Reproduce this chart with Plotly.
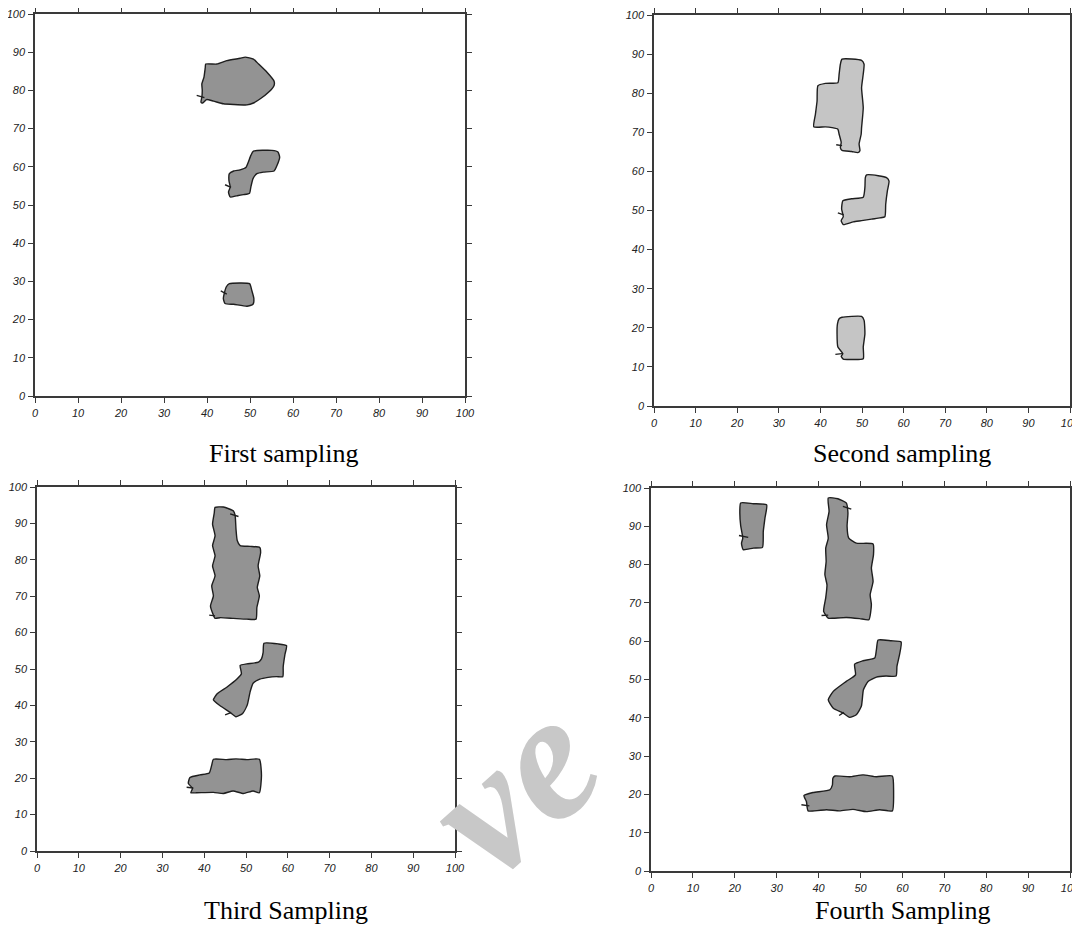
import plotly.graph_objects as go

# ---------------- data ----------------
TICKS = [0, 10, 20, 30, 40, 50, 60, 70, 80, 90, 100]
TITLES = ["First sampling", "Second sampling", "Third Sampling", "Fourth Sampling"]
WATERMARK = "ve"

# First sampling
s1_top_x = [39.7, 42.3, 44.6, 47.7, 48.9, 50.8, 52.0, 53.9, 55.6, 55.6, 54.3, 52.4, 50.8, 49.3, 46.2, 43.8, 41.5, 39.9, 39.0, 38.6, 38.8, 38.9, 38.8, 39.3, 39.6, 39.7]
s1_top_y = [86.9, 86.9, 87.8, 88.4, 88.7, 88.2, 86.9, 84.8, 82.4, 81.3, 79.5, 77.8, 76.7, 76.2, 76.3, 76.5, 77.2, 77.6, 76.7, 76.9, 78.2, 80.0, 81.7, 83.5, 86.0, 86.9]
s1_mid_x = [50.8, 55.1, 56.5, 56.9, 56.3, 55.6, 53.1, 51.6, 50.7, 50.2, 49.9, 48.5, 46.9, 45.4, 45.0, 45.4, 45.1, 45.2, 46.2, 47.7, 49.1, 49.6, 50.2, 50.8]
s1_mid_y = [64.1, 64.3, 63.9, 62.5, 60.4, 58.9, 58.6, 58.2, 56.9, 54.7, 53.1, 52.7, 52.4, 52.1, 53.4, 54.7, 56.4, 58.2, 58.9, 59.2, 59.9, 61.2, 63.0, 64.1]
s1_bot_x = [45.2, 49.9, 50.4, 50.9, 50.7, 49.3, 46.2, 44.2, 43.8, 44.0, 44.5, 45.2]
s1_bot_y = [29.4, 29.4, 27.7, 25.5, 24.0, 23.5, 24.0, 24.2, 25.5, 26.8, 28.6, 29.4]
s1_stub_x = [[37.6, 39.4], [44.2, 45.6], [43.2, 44.6]]
s1_stub_y = [[78.7, 78.1], [55.3, 54.6], [27.5, 26.7]]

# Second sampling
s2_top_x = [45.2, 49.9, 50.5, 50.3, 49.9, 50.3, 49.9, 49.8, 49.3, 49.5, 49.0, 47.5, 45.2, 44.8, 45.0, 44.5, 44.2, 42.8, 41.2, 38.4, 38.8, 39.2, 39.4, 41.2, 44.2, 44.5, 44.8, 45.2]
s2_top_y = [88.7, 88.4, 87.4, 84.9, 81.4, 76.3, 71.2, 69.5, 67.0, 65.3, 64.8, 65.1, 65.4, 66.1, 67.4, 69.5, 70.8, 71.2, 71.4, 71.4, 74.6, 78.0, 81.9, 82.5, 82.7, 84.9, 87.4, 88.7]
s2_mid_x = [51.1, 53.9, 55.9, 56.5, 56.1, 55.7, 55.5, 54.3, 52.3, 49.9, 47.9, 45.5, 45.0, 45.5, 45.1, 45.4, 47.5, 50.3, 50.7, 50.8, 51.1]
s2_mid_y = [59.1, 58.9, 58.4, 57.5, 55.0, 51.6, 48.4, 48.1, 47.8, 47.4, 47.1, 46.4, 47.4, 48.4, 50.4, 52.5, 53.0, 53.4, 55.9, 58.4, 59.1]
s2_bot_x = [45.2, 49.9, 50.5, 50.7, 50.3, 50.3, 47.5, 45.5, 45.0, 45.4, 44.2, 44.0, 44.1, 44.5, 45.2]
s2_bot_y = [22.7, 22.9, 21.9, 18.5, 15.1, 12.1, 11.9, 12.0, 12.7, 13.4, 15.1, 18.5, 21.0, 22.3, 22.7]
s2_stub_x = [[43.8, 45.2], [44.2, 45.6], [43.6, 45.2]]
s2_stub_y = [[66.8, 66.6], [49.4, 48.9], [13.2, 13.4]]

# Third sampling
s3_top_x = [42.6, 44.6, 47.0, 47.4, 47.6, 47.9, 48.6, 51.0, 53.3, 53.5, 52.9, 53.3, 52.7, 53.2, 52.6, 52.4, 50.2, 47.0, 43.8, 42.6, 42.2, 41.5, 42.2, 41.8, 42.6, 42.0, 42.6, 42.0, 42.6, 42.0, 42.4, 42.6]
s3_top_y = [94.4, 94.5, 93.4, 92.2, 88.5, 85.3, 83.9, 83.7, 83.4, 82.0, 78.3, 75.6, 72.4, 70.1, 66.9, 63.7, 63.7, 63.9, 64.1, 63.9, 64.8, 67.3, 70.1, 72.8, 75.6, 78.3, 81.1, 83.9, 86.6, 89.8, 92.8, 94.4]
s3_mid_x = [54.3, 57.7, 59.7, 59.3, 58.9, 58.8, 57.3, 55.3, 53.3, 51.7, 51.0, 50.3, 49.2, 47.6, 46.2, 43.8, 42.2, 43.1, 45.4, 47.9, 48.9, 48.6, 50.2, 53.0, 53.7, 54.1, 54.3]
s3_mid_y = [57.1, 56.9, 56.4, 53.9, 50.6, 47.9, 47.9, 47.7, 47.2, 46.1, 43.8, 40.1, 37.8, 36.9, 38.1, 39.9, 41.5, 43.2, 45.0, 47.3, 48.7, 51.0, 51.4, 51.9, 52.8, 54.6, 57.1]
s3_bot_x = [42.2, 45.4, 47.6, 50.2, 53.2, 53.7, 53.2, 51.7, 49.4, 46.9, 44.6, 42.2, 38.2, 36.8, 37.2, 36.2, 36.6, 39.0, 41.2, 41.8, 42.2]
s3_bot_y = [25.2, 25.1, 25.3, 25.1, 25.2, 20.8, 16.0, 16.5, 15.8, 16.5, 15.8, 16.1, 16.0, 16.0, 17.2, 18.6, 20.2, 20.9, 21.4, 23.6, 25.2]
s3_stub_x = [[46.2, 48.2], [41.2, 42.6], [45.0, 46.4], [35.8, 37.4]]
s3_stub_y = [[92.6, 91.9], [64.8, 64.6], [37.4, 38.0], [17.5, 17.3]]

# Fourth sampling
s4_small_x = [21.4, 24.4, 27.6, 27.2, 26.8, 26.6, 24.4, 22.0, 21.6, 21.9, 21.4, 21.2, 21.4]
s4_small_y = [96.1, 95.9, 95.6, 92.2, 88.7, 84.5, 84.3, 83.9, 85.6, 86.9, 90.2, 93.7, 96.1]
s4_top_x = [42.3, 44.6, 46.6, 47.0, 46.8, 47.2, 49.0, 53.0, 53.1, 52.6, 53.0, 52.3, 52.6, 52.0, 49.8, 46.6, 43.5, 42.3, 41.2, 41.7, 42.0, 41.5, 41.8, 41.7, 42.3, 41.9, 42.5, 42.3]
s4_top_y = [97.4, 97.2, 96.1, 93.5, 90.0, 86.9, 85.6, 85.4, 82.6, 79.1, 75.6, 72.1, 69.5, 65.6, 65.9, 66.2, 66.0, 66.0, 67.8, 71.3, 74.7, 77.4, 80.8, 84.3, 86.9, 90.4, 93.9, 97.4]
s4_mid_x = [54.2, 57.3, 59.7, 59.3, 58.7, 58.5, 56.1, 53.8, 51.8, 50.7, 50.2, 49.0, 47.4, 45.8, 43.5, 42.3, 43.5, 46.6, 48.8, 48.6, 50.6, 53.4, 53.8, 54.2]
s4_mid_y = [60.3, 60.1, 59.8, 56.4, 53.4, 50.9, 50.9, 50.6, 49.5, 47.3, 43.0, 40.8, 40.1, 41.3, 42.5, 44.7, 46.9, 49.5, 51.2, 54.0, 54.9, 55.6, 57.8, 60.3]
s4_bot_x = [43.9, 47.4, 50.6, 53.8, 57.6, 57.9, 57.6, 54.6, 51.4, 48.2, 45.0, 41.9, 37.5, 37.1, 36.5, 38.7, 42.7, 43.3, 43.4, 43.9]
s4_bot_y = [24.8, 24.6, 25.1, 24.6, 24.8, 20.7, 15.7, 16.0, 15.5, 16.1, 15.7, 16.0, 15.7, 18.1, 19.7, 20.5, 21.2, 22.5, 24.2, 24.8]
s4_stub_x = [[21.0, 23.2], [45.8, 47.8], [40.7, 42.3], [44.9, 46.0], [35.9, 37.8]]
s4_stub_y = [[87.6, 87.1], [95.2, 94.5], [66.7, 66.8], [40.6, 41.4], [17.3, 17.0]]

DARK = "#939393"
LIGHT = "#c5c5c5"
panels = [
    dict(blobs=[(s1_top_x, s1_top_y), (s1_mid_x, s1_mid_y), (s1_bot_x, s1_bot_y)],
         stubs=(s1_stub_x, s1_stub_y), fill=DARK),
    dict(blobs=[(s2_top_x, s2_top_y), (s2_mid_x, s2_mid_y), (s2_bot_x, s2_bot_y)],
         stubs=(s2_stub_x, s2_stub_y), fill=LIGHT),
    dict(blobs=[(s3_top_x, s3_top_y), (s3_mid_x, s3_mid_y), (s3_bot_x, s3_bot_y)],
         stubs=(s3_stub_x, s3_stub_y), fill=DARK),
    dict(blobs=[(s4_small_x, s4_small_y), (s4_top_x, s4_top_y), (s4_mid_x, s4_mid_y), (s4_bot_x, s4_bot_y)],
         stubs=(s4_stub_x, s4_stub_y), fill=DARK),
]

# ---------------- layout geometry ----------------
# page (window) pixel positions; the html body adds an 8px offset to the figure
OFF = 8
W, H = 1080 - OFF, 930 - OFF
boxes = [(35, 465, 14, 396), (654, 1070, 15, 406), (37, 455, 487, 851), (651, 1070, 488, 871)]
title_pos = [(284, 453), (902, 453), (286, 910), (903, 910)]


def px(x):
    return (x - OFF) / W


def py(y):
    return 1 - (y - OFF) / H


fig = go.Figure()

for i, p in enumerate(panels):
    n = "" if i == 0 else str(i + 1)
    xa, ya = "x" + n, "y" + n
    for bx, by in p["blobs"]:
        fig.add_trace(go.Scatter(x=bx, y=by, xaxis=xa, yaxis=ya, mode="lines",
                                 fill="toself", fillcolor=p["fill"],
                                 line=dict(color="#1e1e1e", width=1.4, shape="spline", smoothing=0.5),
                                 hoverinfo="skip", showlegend=False))
    sx, sy = p["stubs"]
    for a, b in zip(sx, sy):
        fig.add_trace(go.Scatter(x=a, y=b, xaxis=xa, yaxis=ya, mode="lines",
                                 line=dict(color="#1e1e1e", width=1.4),
                                 hoverinfo="skip", showlegend=False))

axis_common = dict(range=[0, 100], tickvals=TICKS, ticktext=[str(t) for t in TICKS],
                   showline=True, linecolor="#3a3a3a", linewidth=1.5, mirror="ticks",
                   ticks="outside", ticklen=5, tickwidth=1.2, tickcolor="#3a3a3a",
                   showgrid=False, zeroline=False, fixedrange=True, automargin=False,
                   ticklabeloverflow="allow",
                   tickfont=dict(family="Liberation Sans, Arial", size=11, color="#222222", style="italic"))

layout = dict(width=W, height=H, margin=dict(l=0, r=0, t=0, b=0, autoexpand=False),
              paper_bgcolor="white", plot_bgcolor="white", showlegend=False)
for i, (x0, x1, y0, y1) in enumerate(boxes):
    n = "" if i == 0 else str(i + 1)
    layout["xaxis" + n] = dict(axis_common, domain=[px(x0), min(px(x1), 1.0)], anchor="y" + n, ticklabelstandoff=1)
    layout["yaxis" + n] = dict(axis_common, domain=[py(y1), py(y0)], anchor="x" + n, ticklabelstandoff=1)
fig.update_layout(**layout)

annotations = [
    dict(text=WATERMARK, x=px(512), y=py(786), xref="paper", yref="paper",
         xanchor="center", yanchor="middle", showarrow=False, textangle=-42,
         font=dict(family="Liberation Serif, Times New Roman", size=180, color="#c8c8c8",
                   weight="bold", style="italic")),
]
for t, (cx, cy) in zip(TITLES, title_pos):
    annotations.append(dict(text=t, x=px(cx), y=py(cy), xref="paper", yref="paper",
                            xanchor="center", yanchor="middle", showarrow=False,
                            font=dict(family="Liberation Serif, Times New Roman", size=26, color="#000000")))
fig.update_layout(annotations=annotations)

fig.write_html("out.html")
